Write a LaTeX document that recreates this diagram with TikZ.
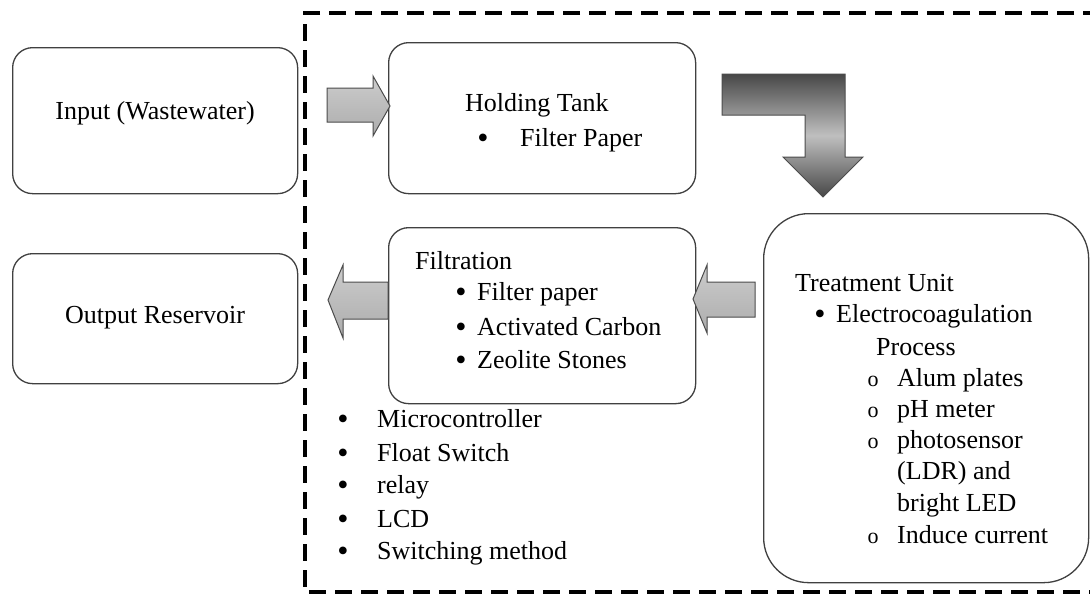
\documentclass[tikz,border=0pt]{standalone}
\usepackage{fontspec}
\setmainfont{Liberation Serif}
\begin{document}
\begin{tikzpicture}[x=1pt,y=-1pt,
  rbox/.style={draw=black!75, line width=1.3pt, rounded corners=20pt, fill=white, anchor=north west, inner sep=0pt},
  txt/.style={anchor=base west, inner sep=0pt, font=\fontsize{26}{32}\selectfont},
  bul/.style={anchor=base, inner sep=0pt, font=\fontsize{26}{32}\selectfont},
  dot/.style={anchor=base, inner sep=0pt, yshift=-2pt, font=\fontsize{32}{32}\selectfont},
  circ/.style={anchor=base, inner sep=0pt, font=\fontsize{22}{32}\selectfont},
  frame/.style={line width=3.5pt, dash pattern=on 17pt off 9pt},
  sidearrow/.style={draw=black!70, line width=1pt, top color=gray!40, bottom color=gray!65},
  bentarrow/.style={draw=black!70, line width=1pt, top color=black!72, bottom color=black!72, middle color=black!25}
]
\useasboundingbox (0,0) rectangle (1090,595);
\clip (0,0) rectangle (1090,595);
\fill[white] (0,0) rectangle (1090,595);

% dashed frame
\coordinate (fr1) at (1100,13);
\coordinate (fr2) at (305,13);
\coordinate (fr3) at (305,592);
\coordinate (fr4) at (1100,592);
\draw[frame] (fr1) -- (fr2) -- (fr3) -- (fr4);

% boxes
\node[rbox, minimum width=285pt, minimum height=146pt] (inp) at (12,47) {};
\node[rbox, minimum width=285pt, minimum height=130pt] (out) at (12,253) {};
\node[rbox, minimum width=307pt, minimum height=151pt] (hold) at (388,42) {};
\node[rbox, minimum width=307pt, minimum height=176pt] (filt) at (388,227) {};
\node[rbox, rounded corners=45pt, minimum width=325pt, minimum height=369pt] (treat) at (763,213) {};

% block arrows
\path[sidearrow] (327,88) -- (373,88) -- (373,76) -- (390,106) -- (373,136) -- (373,122) -- (327,122) -- cycle;
\path[bentarrow] (722,74) -- (845,74) -- (845,157) -- (863,157) -- (823,197) -- (783,157) -- (805,157) -- (805,115) -- (722,115) -- cycle;
\path[sidearrow] (755,282) -- (707,282) -- (707,265) -- (693,299) -- (707,333) -- (707,317) -- (755,317) -- cycle;
\path[sidearrow] (388,282) -- (343,282) -- (343,265) -- (328,300) -- (343,338) -- (343,319) -- (388,319) -- cycle;

% texts
\node[bul] (tin) at (155,119) {Input (Wastewater)};
\node[bul] (tout) at (155,323) {Output Reservoir};

\node[txt] (th) at (465,111) {Holding Tank};
\node[dot] (bh) at (483,146) {•};
\node[txt] (th1) at (520,146) {Filter Paper};

\node[txt] (tf) at (415,269) {Filtration};
\node[dot] (bf1) at (461,300) {•};
\node[txt] (tf1) at (477,300) {Filter paper};
\node[dot] (bf2) at (461,335) {•};
\node[txt] (tf2) at (477,335) {Activated Carbon};
\node[dot] (bf3) at (461,368) {•};
\node[txt] (tf3) at (477,368) {Zeolite Stones};

\node[dot] (bl1) at (343,427) {•};
\node[txt] (tl1) at (377,427) {Microcontroller};
\node[dot] (bl2) at (343,461) {•};
\node[txt] (tl2) at (377,461) {Float Switch};
\node[dot] (bl3) at (343,493) {•};
\node[txt] (tl3) at (377,493) {relay};
\node[dot] (bl4) at (343,527) {•};
\node[txt] (tl4) at (377,527) {LCD};
\node[dot] (bl5) at (343,559) {•};
\node[txt] (tl5) at (377,559) {Switching method};

\node[txt] (tt) at (795,291) {Treatment Unit};
\node[dot] (bt) at (820,322) {•};
\node[txt] (tt1) at (836,322) {Electrocoagulation};
\node[txt] (tt2) at (876,355) {Process};
\node[circ] (bo1) at (873,386) {o};
\node[txt] (to1) at (897,386) {Alum plates};
\node[circ] (bo2) at (873,417) {o};
\node[txt] (to2) at (897,417) {pH meter};
\node[circ] (bo3) at (873,448) {o};
\node[txt] (to3) at (897,448) {photosensor};
\node[txt] (to3b) at (897,479) {(LDR) and};
\node[txt] (to3c) at (897,511) {bright LED};
\node[circ] (bo4) at (873,543) {o};
\node[txt] (to4) at (897,543) {Induce current};
\end{tikzpicture}
\end{document}
